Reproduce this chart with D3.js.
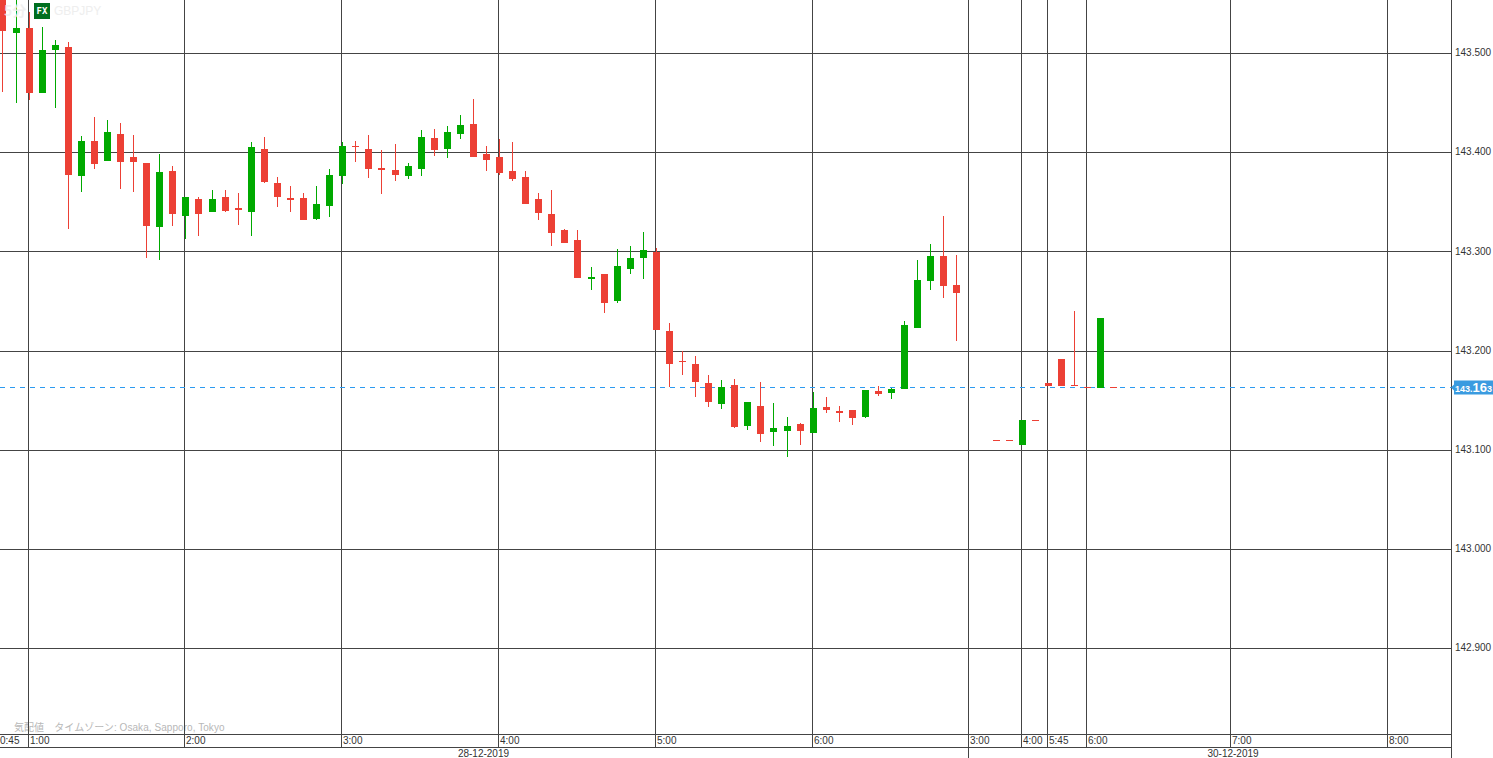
<!DOCTYPE html>
<html>
<head>
<meta charset="utf-8">
<script src="https://cdn.jsdelivr.net/npm/d3@7"></script>
<style>
  body { margin: 0; background: #fff; overflow: hidden; }
  svg { display: block; font-family: 'Liberation Sans', Arial, sans-serif; }
</style>
</head>
<body>
<div id="graph"></div>
<script>
// 5 minute candles, GBPJPY. null = no trade in that slot
const opens = [143.56, 143.521, 143.526, 143.46, 143.503, 143.506, 143.376, 143.412, 143.392, 143.419, 143.396, 143.39, 143.325, 143.381, 143.336, 143.353, 143.34, 143.355, 143.344, 143.34, 143.404, 143.369, 143.354, 143.354, 143.333, 143.346, 143.376, 143.407, 143.404, 143.384, 143.382, 143.376, 143.383, 143.415, 143.404, 143.419, 143.429, 143.399, 143.396, 143.381, 143.375, 143.353, 143.338, 143.322, 143.312, 143.273, 143.278, 143.25, 143.283, 143.294, 143.3, 143.22, 143.19, 143.187, 143.168, 143.147, 143.166, 143.124, 143.145, 143.118, 143.119, 143.126, 143.117, 143.144, 143.14, 143.141, 143.133, 143.16, 143.158, 143.162, 143.223, 143.271, 143.296, 143.267, null, null, 143.11, 143.11, 143.105, 143.13, 143.168, 143.192, 143.166, 143.164, 143.163, 143.164]
const closes = [143.523, 143.526, 143.46, 143.503, 143.508, 143.377, 143.412, 143.389, 143.421, 143.391, 143.391, 143.326, 143.38, 143.338, 143.355, 143.338, 143.353, 143.341, 143.342, 143.406, 143.37, 143.355, 143.352, 143.332, 143.348, 143.377, 143.407, 143.406, 143.383, 143.382, 143.377, 143.386, 143.416, 143.403, 143.421, 143.428, 143.396, 143.393, 143.379, 143.373, 143.348, 143.339, 143.319, 143.309, 143.274, 143.275, 143.248, 143.286, 143.294, 143.302, 143.221, 143.187, 143.189, 143.169, 143.149, 143.164, 143.123, 143.149, 143.116, 143.122, 143.124, 143.119, 143.143, 143.141, 143.137, 143.132, 143.161, 143.157, 143.162, 143.226, 143.272, 143.296, 143.266, 143.258, null, null, 143.109, 143.109, 143.13, 143.129, 143.165, 143.165, 143.165, 143.163, 143.233, 143.163]
const highs = [143.58, 143.56, 143.542, 143.527, 143.514, 143.511, 143.417, 143.436, 143.433, 143.43, 143.418, 143.39, 143.399, 143.386, 143.355, 143.355, 143.362, 143.362, 143.359, 143.411, 143.416, 143.375, 143.366, 143.359, 143.366, 143.383, 143.411, 143.412, 143.418, 143.403, 143.409, 143.39, 143.423, 143.424, 143.427, 143.438, 143.454, 143.407, 143.414, 143.411, 143.381, 143.359, 143.362, 143.323, 143.322, 143.285, 143.278, 143.303, 143.306, 143.32, 143.304, 143.228, 143.2, 143.195, 143.176, 143.171, 143.172, 143.149, 143.169, 143.148, 143.133, 143.127, 143.159, 143.154, 143.145, 143.141, 143.161, 143.165, 143.163, 143.23, 143.292, 143.308, 143.336, 143.297, null, null, 143.11, 143.11, 143.13, 143.13, 143.168, 143.192, 143.24, 143.164, 143.233, 143.164]
const lows = [143.461, 143.45, 143.453, 143.46, 143.445, 143.323, 143.36, 143.383, 143.392, 143.363, 143.36, 143.294, 143.292, 143.326, 143.313, 143.316, 143.34, 143.34, 143.327, 143.316, 143.369, 143.345, 143.34, 143.332, 143.332, 143.335, 143.368, 143.391, 143.374, 143.358, 143.371, 143.373, 143.376, 143.397, 143.395, 143.414, 143.396, 143.381, 143.377, 143.371, 143.348, 143.332, 143.306, 143.309, 143.274, 143.261, 143.238, 143.248, 143.278, 143.273, 143.221, 143.164, 143.176, 143.154, 143.144, 143.142, 143.122, 143.12, 143.108, 143.104, 143.093, 143.105, 143.117, 143.138, 143.128, 143.125, 143.132, 143.155, 143.152, 143.162, 143.223, 143.261, 143.253, 143.21, null, null, 143.109, 143.109, 143.105, 143.129, 143.165, 143.165, 143.165, 143.163, 143.163, 143.163]

const priceTicks = [143.5, 143.4, 143.3, 143.2, 143.1, 143.0, 142.9]
const lastPrice = 143.163

// candle slot where each time label sits
const timeSlots = [0, 2, 14, 26, 38, 50, 62, 74, 78, 80, 83, 94, 106]
const timeLabels = ['0:45', '1:00', '2:00', '3:00', '4:00', '5:00', '6:00', '3:00', '4:00', '5:45', '6:00', '7:00', '8:00']
const dateLabels = ['28-12-2019', '30-12-2019']
const dateCenterSlots = [36.77, 94.13]
const sessionBreakSlot = 74

const width = 1493
const height = 758
const plotRight = 1451
const plotBottom = 734
const axisBottom = 747

const upColor = '#00a900'
const downColor = '#ec4035'
const gridColor = '#444444'
const labelColor = '#333333'
const lastColor = '#2d9bf0'
const tagColor = '#3a9be0'

const svg = d3
  .select('#graph')
  .append('svg')
  .attr('width', width)
  .attr('height', height)

const x = d3.scaleLinear().domain([0, 100]).range([2.98, 1309.73])
const y = d3.scaleLinear().domain([143.5, 142.9]).range([53.4, 648.6])

// candles and grid are snapped to whole pixels so the lines stay crisp
const px = (i) => Math.floor(x(i))
const py = (v) => Math.round(y(v))

svg
  .append('defs')
  .append('clipPath')
  .attr('id', 'plot')
  .append('rect')
  .attr('width', plotRight)
  .attr('height', plotBottom)

svg
  .append('text')
  .attr('x', 14)
  .attr('y', 731)
  .attr('font-size', 10)
  .attr('letter-spacing', 0.06)
  .attr('fill', '#b8b8b8')
  .style('font-family', "'Liberation Sans', 'Noto Sans CJK JP', sans-serif")
  .text('気配値　タイムゾーン: Osaka, Sapporo, Tokyo')

// grid
const gridSlots = timeSlots.slice(1)
svg
  .append('g')
  .selectAll('line')
  .data(gridSlots)
  .join('line')
  .attr('x1', (d) => px(d) - 0.5)
  .attr('x2', (d) => px(d) - 0.5)
  .attr('y1', 0)
  .attr('y2', axisBottom)
  .attr('stroke', gridColor)

svg
  .append('g')
  .selectAll('line')
  .data(priceTicks)
  .join('line')
  .attr('x1', 0)
  .attr('x2', plotRight)
  .attr('y1', (d) => Math.floor(y(d)) + 0.5)
  .attr('y2', (d) => Math.floor(y(d)) + 0.5)
  .attr('stroke', gridColor)

// current price line goes under the candles
svg
  .append('line')
  .attr('x1', 0)
  .attr('x2', plotRight)
  .attr('y1', Math.floor(y(lastPrice)) + 0.5)
  .attr('y2', Math.floor(y(lastPrice)) + 0.5)
  .attr('stroke', lastColor)
  .attr('stroke-dasharray', '5,5')

const candleData = opens
  .map((open, i) => ({
    i,
    open,
    close: closes[i],
    high: highs[i],
    low: lows[i],
  }))
  .filter((d) => d.open !== null)

const candles = svg.append('g').attr('clip-path', 'url(#plot)')

candles
  .selectAll('.wick')
  .data(candleData)
  .join('rect')
  .attr('class', 'wick')
  .attr('x', (d) => px(d.i))
  .attr('y', (d) => py(d.high))
  .attr('width', 1)
  .attr('height', (d) => py(d.low) - py(d.high))
  .attr('fill', (d) => (d.close > d.open ? upColor : downColor))

candles
  .selectAll('.body')
  .data(candleData)
  .join('rect')
  .attr('class', 'body')
  .attr('x', (d) => px(d.i) - 3)
  .attr('y', (d) => py(Math.max(d.open, d.close)))
  .attr('width', 7)
  .attr('height', (d) =>
    Math.max(1, py(Math.min(d.open, d.close)) - py(Math.max(d.open, d.close)))
  )
  .attr('fill', (d) => (d.close > d.open ? upColor : downColor))

// watermark sits on top of the candles
svg
  .append('text')
  .attr('x', 4)
  .attr('y', 16)
  .attr('font-size', 14)
  .attr('font-weight', 'bold')
  .attr('fill', '#eeeeee')
  .attr('fill-opacity', 0.85)
  .style('font-family', "'Noto Sans CJK JP', sans-serif")
  .text('5分')
svg
  .append('rect')
  .attr('x', 34)
  .attr('y', 3)
  .attr('width', 16)
  .attr('height', 16)
  .attr('fill', '#006f1f')
svg
  .append('text')
  .attr('x', 42)
  .attr('y', 14)
  .attr('text-anchor', 'middle')
  .attr('font-size', 9)
  .attr('font-weight', 'bold')
  .attr('fill', '#ffffff')
  .style('font-family', "'DejaVu Sans Mono', monospace")
  .text('FX')
svg
  .append('text')
  .attr('x', 54)
  .attr('y', 15)
  .attr('font-size', 12)
  .attr('fill', '#eeeeee')
  .text('GBPJPY')

// price axis
const priceAxis = svg
  .append('g')
  .attr('transform', `translate(${plotRight}, -1)`)
  .call(
    d3
      .axisRight(y)
      .tickValues(priceTicks)
      .tickSize(0)
      .tickPadding(4)
      .tickFormat(d3.format('.3f'))
  )
priceAxis.select('.domain').remove()
priceAxis
  .selectAll('text')
  .attr('font-size', 10)
  .attr('fill', labelColor)
  .style('font-family', "'Liberation Sans', Arial, sans-serif")

svg
  .append('line')
  .attr('x1', plotRight + 0.5)
  .attr('x2', plotRight + 0.5)
  .attr('y1', 0)
  .attr('y2', height)
  .attr('stroke', gridColor)

// time axis frame
svg
  .append('g')
  .selectAll('line')
  .data([plotBottom, axisBottom])
  .join('line')
  .attr('x1', 0)
  .attr('x2', plotRight)
  .attr('y1', (d) => d + 0.5)
  .attr('y2', (d) => d + 0.5)
  .attr('stroke', gridColor)

svg
  .append('line')
  .attr('x1', px(sessionBreakSlot) - 0.5)
  .attr('x2', px(sessionBreakSlot) - 0.5)
  .attr('y1', axisBottom)
  .attr('y2', height)
  .attr('stroke', gridColor)

svg
  .append('g')
  .selectAll('text')
  .data(timeSlots)
  .join('text')
  .attr('x', (d, i) => (i === 0 ? 0 : px(d) + 1))
  .attr('y', 744)
  .attr('font-size', 10)
  .attr('fill', labelColor)
  .text((d, i) => timeLabels[i])

svg
  .append('g')
  .selectAll('text')
  .data(dateLabels)
  .join('text')
  .attr('x', (d, i) => x(dateCenterSlots[i]))
  .attr('y', 757)
  .attr('text-anchor', 'middle')
  .attr('font-size', 10)
  .attr('fill', labelColor)
  .text((d) => d)

// current price tag
const tagY = Math.floor(y(lastPrice)) + 0.5
const priceText = d3.format('.3f')(lastPrice)
svg
  .append('path')
  .attr(
    'd',
    d3.line()([
      [plotRight, tagY],
      [plotRight + 3, tagY - 3],
      [plotRight + 3, tagY + 3],
    ]) + 'Z'
  )
  .attr('fill', tagColor)
svg
  .append('rect')
  .attr('x', plotRight + 3)
  .attr('y', tagY - 7)
  .attr('width', width - plotRight - 3)
  .attr('height', 14)
  .attr('fill', tagColor)
const tag = svg
  .append('text')
  .attr('x', plotRight + 4)
  .attr('y', tagY + 4)
  .attr('font-size', 9)
  .attr('font-weight', 'bold')
  .attr('fill', '#ffffff')
tag.append('tspan').text(priceText.slice(0, 4))
tag.append('tspan').attr('font-size', 13).text(priceText.slice(4, 6))
tag.append('tspan').text(priceText.slice(6))
</script>
</body>
</html>
